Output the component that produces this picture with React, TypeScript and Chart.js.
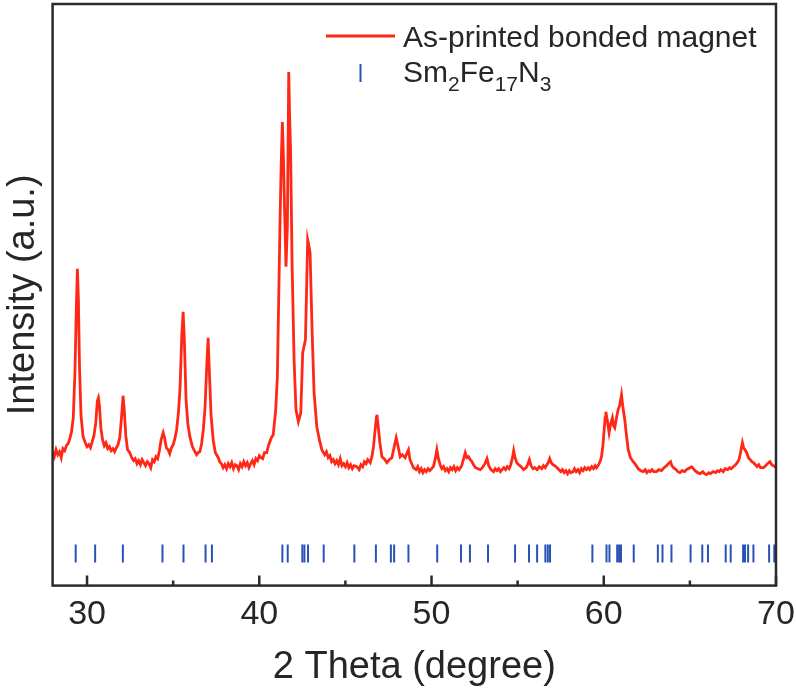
import React, { useEffect, useRef } from "react";
import { Chart, registerables } from "chart.js";

Chart.register(...registerables);

// Measured XRD pattern (2θ in degrees, intensity in arbitrary units)
const twoTheta = [
  28.0, 28.1, 28.2, 28.3, 28.4, 28.5, 28.6, 28.7, 28.8, 28.9, 29.0, 29.1, 29.2, 29.3, 29.38, 29.44, 29.5, 29.56, 29.65, 29.77, 29.9,
  30.0, 30.1, 30.2, 30.3, 30.4, 30.5, 30.6, 30.66, 30.72, 30.8, 30.9, 31.0, 31.1, 31.2, 31.3, 31.4, 31.5, 31.6, 31.7, 31.8, 31.9,
  32.0, 32.09, 32.15, 32.25, 32.35, 32.48, 32.6, 32.7, 32.8, 32.9, 33.0, 33.1, 33.2, 33.3, 33.4, 33.5, 33.6, 33.7, 33.8, 33.9,
  34.0, 34.1, 34.2, 34.3, 34.42, 34.5, 34.6, 34.71, 34.8, 34.9, 35.0, 35.1, 35.2, 35.3, 35.4, 35.5, 35.58, 35.65, 35.75, 35.85, 35.97,
  36.1, 36.2, 36.36, 36.45, 36.55, 36.65, 36.75, 36.85, 36.95, 37.03, 37.1, 37.2, 37.33, 37.45, 37.62, 37.7, 37.8, 37.9,
  38.0, 38.1, 38.2, 38.3, 38.4, 38.5, 38.6, 38.7, 38.8, 38.9, 39.0, 39.1, 39.2, 39.3, 39.4, 39.5, 39.6, 39.7, 39.8, 39.9,
  40.0, 40.1, 40.2, 40.3, 40.43, 40.55, 40.7, 40.81, 40.95, 41.05, 41.2, 41.27, 41.34, 41.4, 41.45, 41.55, 41.63, 41.71, 41.76, 41.82, 41.9,
  42.02, 42.13, 42.27, 42.41, 42.52, 42.68, 42.81, 42.88, 42.95, 43.06, 43.18, 43.34, 43.5, 43.63, 43.8, 43.9,
  44.0, 44.1, 44.2, 44.3, 44.4, 44.5, 44.6, 44.7, 44.8, 44.9, 45.0, 45.1, 45.2, 45.3, 45.4, 45.5, 45.66, 45.8, 45.9,
  46.0, 46.1, 46.2, 46.3, 46.44, 46.55, 46.63, 46.72, 46.8, 46.83, 46.9, 47.0, 47.12, 47.25, 47.41, 47.55, 47.7, 47.82, 47.95,
  48.05, 48.18, 48.3, 48.47, 48.58, 48.66, 48.75, 48.95, 49.1, 49.2, 49.3, 49.4, 49.5, 49.6, 49.7, 49.8, 49.9,
  50.11, 50.22, 50.31, 50.4, 50.5, 50.6, 50.7, 50.8, 50.9, 51.0, 51.1, 51.2, 51.3, 51.4, 51.5, 51.6, 51.75, 51.85, 51.96,
  52.05, 52.15, 52.25, 52.35, 52.44, 52.55, 52.7, 52.83, 52.95, 53.1, 53.22, 53.32, 53.45, 53.6, 53.7, 53.8, 53.9,
  54.0, 54.1, 54.2, 54.3, 54.4, 54.5, 54.6, 54.7, 54.77, 54.85, 54.95, 55.06, 55.2, 55.35, 55.5, 55.6, 55.68, 55.78, 55.9,
  56.0, 56.13, 56.25, 56.4, 56.5, 56.6, 56.7, 56.8, 56.86, 56.95, 57.05, 57.15, 57.29, 57.4, 57.5, 57.6, 57.7, 57.8, 57.9,
  58.0, 58.1, 58.22, 58.3, 58.4, 58.5, 58.6, 58.7, 58.8, 58.9, 59.0, 59.1, 59.19, 59.3, 59.4, 59.5, 59.58, 59.7, 59.8, 59.87, 59.95,
  60.02, 60.08, 60.12, 60.2, 60.31, 60.4, 60.5, 60.57, 60.64, 60.72, 60.83, 60.92, 61.03, 61.1, 61.22, 61.32, 61.42, 61.55, 61.71, 61.85,
  62.0, 62.15, 62.29, 62.4, 62.5, 62.6, 62.7, 62.8, 62.9, 63.06, 63.2, 63.35, 63.5, 63.65, 63.75, 63.88, 63.95,
  64.05, 64.2, 64.3, 64.42, 64.55, 64.7, 64.8, 64.9, 65.0, 65.1, 65.2, 65.3, 65.45, 65.6, 65.75, 65.85, 65.97,
  66.1, 66.2, 66.35, 66.5, 66.6, 66.7, 66.8, 66.94, 67.05, 67.2, 67.3, 67.4, 67.52, 67.65, 67.75, 67.85, 67.95,
  68.05, 68.12, 68.2, 68.3, 68.4, 68.5, 68.6, 68.69, 68.8, 68.9, 69.0, 69.1, 69.27, 69.4, 69.5, 69.65, 69.75, 69.85, 69.95, 70.0,
];

const intensity = [
  133, 129, 136, 131, 134, 128, 137, 135, 140, 142, 147, 154, 168, 215, 280, 317, 285, 220, 170, 149, 143,
  139, 141, 138, 144, 150, 162, 185, 188, 180, 158, 146, 140, 143, 137, 139, 135, 137, 134, 138, 141, 148,
  168, 190, 178, 150, 136, 133, 128, 125, 127, 122, 125, 121, 126, 123, 120, 124, 122, 118, 126, 124,
  129, 127, 135, 146, 153, 148, 138, 136, 132, 138, 141, 147, 156, 172, 198, 250, 274, 245, 185, 162, 149,
  140, 136, 131, 133, 134, 142, 156, 178, 220, 248, 215, 170, 145, 133, 128, 124, 122, 118,
  121, 117, 122, 119, 123, 117, 121, 120, 116, 122, 119, 124, 120, 123, 118, 122, 125, 121, 127, 125,
  130, 128, 127, 133, 133, 141, 148, 151, 175, 209, 360, 420, 464, 430, 389, 319, 359, 514, 470, 433, 326,
  226, 176, 164, 173, 233, 246, 346, 340, 333, 259, 193, 159, 145, 136, 131, 134,
  128, 130, 124, 126, 122, 125, 121, 127, 120, 122, 119, 123, 118, 121, 117, 120, 119, 116, 121,
  119, 124, 122, 126, 123, 130, 139, 155, 168, 171, 160, 143, 129, 127, 123, 126, 128, 138, 148,
  140, 129, 131, 128, 133, 136, 126, 118, 116, 119, 114, 117, 113, 116, 114, 117, 115,
  119, 127, 136, 127, 121, 117, 119, 115, 117, 114, 118, 116, 119, 115, 118, 116, 120, 126, 133,
  128, 129, 126, 124, 121, 118, 117, 116, 118, 122, 127, 120, 116, 114, 117, 115, 117,
  114, 116, 118, 116, 119, 117, 121, 128, 135, 128, 123, 121, 119, 116, 118, 122, 126, 120, 117,
  118, 116, 119, 117, 120, 118, 121, 124, 127, 123, 121, 120, 118, 116, 114, 116, 113, 115, 112,
  115, 113, 114, 117, 114, 116, 113, 117, 115, 118, 116, 118, 116, 119, 117, 120, 118, 121, 125, 129, 140,
  155, 168, 174, 166, 153, 162, 168, 160, 158, 166, 176, 180, 191, 180, 166, 150, 136, 128, 124, 121,
  117, 115, 114, 116, 113, 115, 114, 116, 114, 114, 116, 115, 118, 120, 122, 124, 120,
  118, 116, 114, 113, 115, 114, 116, 117, 118, 119, 117, 115, 113, 112, 114, 112, 111,
  113, 112, 114, 113, 115, 114, 116, 114, 117, 116, 118, 117, 119, 121, 123, 126, 134,
  143, 138, 136, 133, 128, 126, 124, 123, 121, 119, 121, 118, 118, 120, 122, 124, 121, 120, 119, 118,
];

// Sm2Fe17N3 reference reflection positions (2θ, degrees)
const refPeaks = [
  29.34, 30.47, 32.08, 34.38, 35.6, 36.88, 37.25, 41.34, 41.65, 42.5, 42.62, 42.83, 43.74,
  45.52, 46.77, 47.64, 47.83, 48.66, 50.33, 51.71, 52.23, 53.28, 54.85, 55.66, 56.13, 56.61,
  56.75, 56.88, 59.34, 60.16, 60.33, 60.78, 60.89, 61.0, 61.74, 63.14, 63.41, 63.93, 65.04,
  65.72, 66.05, 67.08, 67.37, 68.09, 68.2, 68.38, 68.69, 69.6, 69.9,
];
const refLevel = 32;

const xMajorTicks = [30, 40, 50, 60, 70];
const xMinorTicks = [35, 45, 55, 65];

const seriesLabel = "As-printed bonded magnet";
const refLabelParts: [string, boolean][] = [
  ["Sm", false], ["2", true], ["Fe", false], ["17", true], ["N", false], ["3", true],
];
const xTitle = "2 Theta (degree)";
const yTitle = "Intensity (a.u.)";

const RED = "rgb(255, 40, 22)";
const BLUE = "rgb(40, 82, 182)";
const INK = "#262626";
const FONT = '"Liberation Sans", Arial, Helvetica, sans-serif';

const framePlugin = {
  id: "frameAndLegend",
  afterDraw(chart: any) {
    const { ctx, chartArea, scales } = chart;
    const { left, right, top, bottom } = chartArea;
    const x = scales.x;
    ctx.save();
    // frame
    ctx.strokeStyle = "#2b2b2b";
    ctx.lineWidth = 2.5;
    ctx.strokeRect(left, top, right - left, bottom - top);
    // inward ticks
    ctx.beginPath();
    for (const v of xMajorTicks) {
      const px = x.getPixelForValue(v);
      ctx.moveTo(px, bottom);
      ctx.lineTo(px, bottom - 10);
    }
    for (const v of xMinorTicks) {
      const px = x.getPixelForValue(v);
      ctx.moveTo(px, bottom);
      ctx.lineTo(px, bottom - 5);
    }
    ctx.stroke();

    // legend
    const lx = right - 450;
    ctx.lineCap = "butt";
    ctx.strokeStyle = RED;
    ctx.lineWidth = 3;
    ctx.beginPath();
    ctx.moveTo(lx, top + 32);
    ctx.lineTo(lx + 69, top + 32);
    ctx.stroke();

    ctx.strokeStyle = BLUE;
    ctx.lineWidth = 2;
    ctx.beginPath();
    ctx.moveTo(lx + 34.5, top + 60);
    ctx.lineTo(lx + 34.5, top + 78);
    ctx.stroke();

    ctx.fillStyle = INK;
    ctx.textAlign = "left";
    ctx.textBaseline = "alphabetic";
    const tx = lx + 77;
    ctx.font = `30px ${FONT}`;
    ctx.fillText(seriesLabel, tx, top + 43);

    let cx = tx;
    for (const [txt, sub] of refLabelParts) {
      ctx.font = sub ? `21px ${FONT}` : `30px ${FONT}`;
      const yy = sub ? top + 87 : top + 78;
      ctx.fillText(txt, cx, yy);
      cx += ctx.measureText(txt).width;
    }
    ctx.restore();
  },
};

export default function App() {
  const canvasRef = useRef<HTMLCanvasElement | null>(null);

  useEffect(() => {
    const canvas = canvasRef.current;
    if (!canvas) return;
    const linePoints = twoTheta.map((t, i) => ({ x: t, y: intensity[i] }));
    const tickPoints = refPeaks.map((t) => ({ x: t, y: refLevel }));

    const chart = new Chart(canvas, {
      type: "line",
      data: {
        datasets: [
          {
            label: seriesLabel,
            data: linePoints,
            borderColor: RED,
            backgroundColor: RED,
            borderWidth: 2.8,
            pointRadius: 0,
            tension: 0,
            fill: false,
          },
          {
            type: "scatter",
            label: "Sm2Fe17N3",
            data: tickPoints,
            showLine: false,
            pointStyle: "line",
            rotation: 90,
            pointRadius: 9,
            borderColor: BLUE,
            backgroundColor: BLUE,
            borderWidth: 2,
          } as any,
        ],
      },
      options: {
        responsive: false,
        animation: false,
        events: [],
        layout: { autoPadding: false, padding: { left: 0, right: 20, top: 4, bottom: 0 } },
        plugins: {
          legend: { display: false },
          tooltip: { enabled: false },
        },
        scales: {
          x: {
            type: "linear",
            min: 28,
            max: 70,
            afterBuildTicks: (axis: any) => {
              axis.ticks = xMajorTicks.map((v) => ({ value: v }));
            },
            afterFit: (axis: any) => {
              axis.paddingLeft = 0;
              axis.paddingRight = 0;
            },
            grid: { display: false, drawTicks: false },
            border: { display: false },
            ticks: {
              color: INK,
              padding: 9,
              maxRotation: 0,
              autoSkip: false,
              font: { family: FONT, size: 34 },
            },
            title: {
              display: true,
              text: xTitle,
              color: INK,
              padding: { top: 0, bottom: 2 },
              font: { family: FONT, size: 38 },
            },
          },
          y: {
            type: "linear",
            min: 0,
            max: 582,
            grid: { display: false, drawTicks: false },
            border: { display: false },
            ticks: { display: false },
            title: {
              display: true,
              text: yTitle,
              color: INK,
              padding: { top: 1, bottom: 6 },
              font: { family: FONT, size: 38 },
            },
          },
        },
      },
      plugins: [framePlugin],
    });
    return () => chart.destroy();
  }, []);

  return (
    <div style={{ position: "fixed", left: 0, top: 0, width: 796, height: 692, background: "#fff" }}>
      <canvas ref={canvasRef} width={796} height={692} style={{ width: 796, height: 692 }} />
    </div>
  );
}
